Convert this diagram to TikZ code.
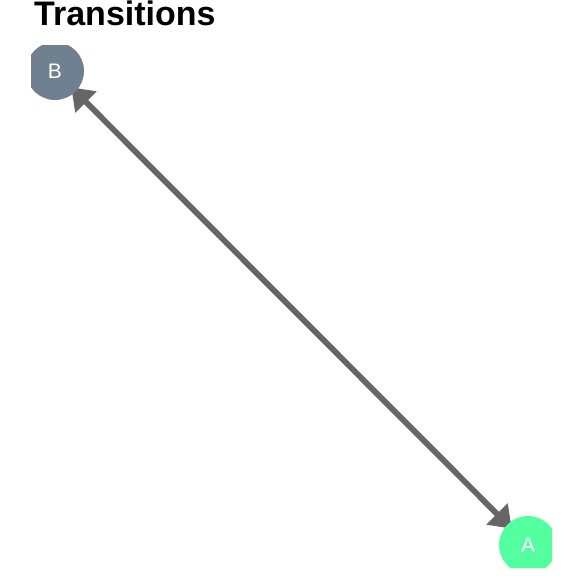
\documentclass[tikz,border=0pt]{standalone}
\usepackage{fontspec}
\setmainfont{Liberation Sans}
\usetikzlibrary{arrows.meta}
\definecolor{nodeB}{HTML}{708090}
\definecolor{nodeA}{HTML}{54FF9F}
\definecolor{edgegray}{HTML}{666666}
\begin{document}
\begin{tikzpicture}[x=1pt,y=-1pt,
  state/.style={circle,minimum size=58pt,inner sep=0pt,text=white,font=\fontsize{21}{21}\selectfont},
  trans/.style={draw=edgegray,line width=5.8pt,{Triangle[length=21pt,width=29pt]}-{Triangle[length=21pt,width=29pt]},shorten <=23pt,shorten >=23pt}
]
\useasboundingbox (0,0) rectangle (576,576);
\node[anchor=base west,inner sep=0pt,font=\fontsize{34}{34}\selectfont\bfseries] (title) at (34,25) {Transitions};
\coordinate (pB) at (55,71);
\coordinate (pA) at (528,545);
\draw[trans] (pB) -- (pA);
\begin{scope}
\clip[rounded corners=4pt] (31,45) rectangle (552,568);
\node[state,fill=nodeB] (B) at (pB) {B};
\node[state,fill=nodeA] (A) at (pA) {A};
\end{scope}
\end{tikzpicture}
\end{document}
